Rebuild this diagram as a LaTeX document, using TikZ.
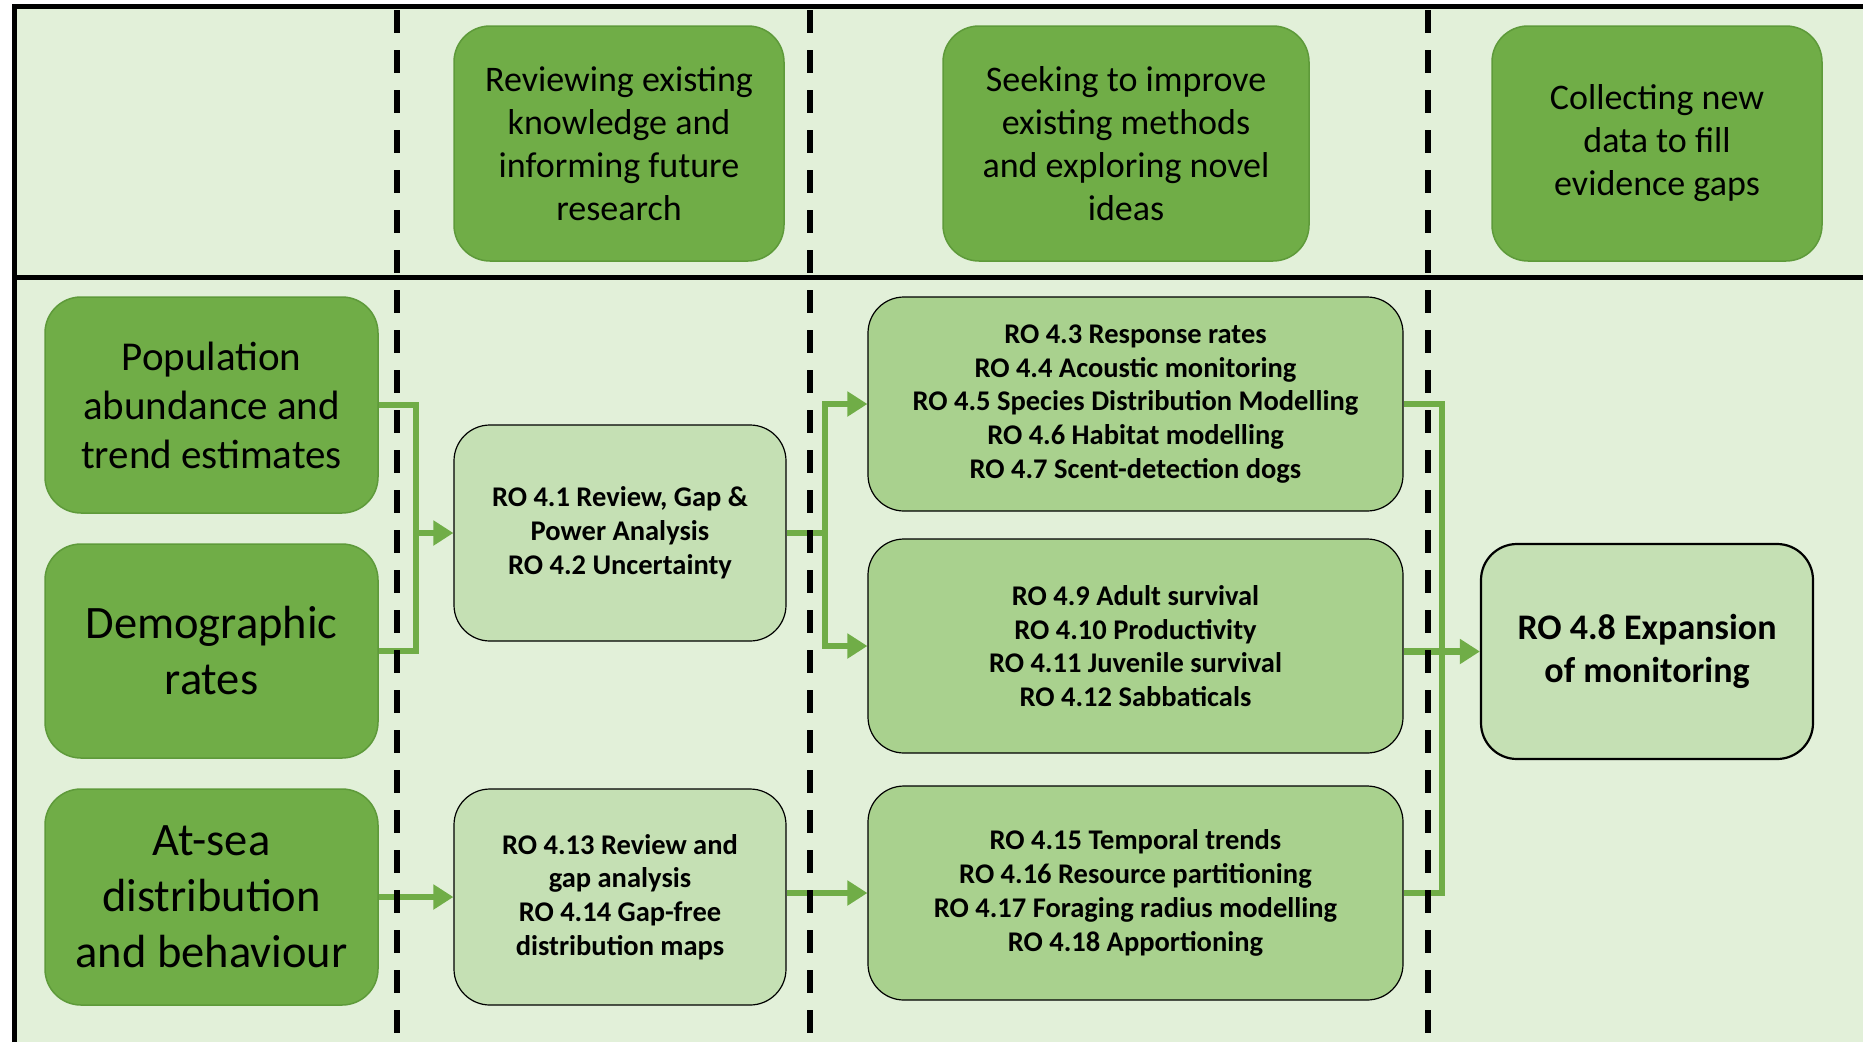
\documentclass[tikz,border=0pt]{standalone}
\usepackage{fontspec}
\setmainfont{Carlito}
\usetikzlibrary{arrows.meta}
\definecolor{bg}{HTML}{E2F0D9}
\definecolor{dk}{HTML}{70AD47}
\definecolor{dkb}{HTML}{5E9A3A}
\definecolor{md}{HTML}{A9D18E}
\definecolor{lt}{HTML}{C5E0B4}
\begin{document}
\begin{tikzpicture}[x=1pt,y=-1pt,
  darkbox/.style={draw=dkb, line width=1.5pt, fill=dk, rounded corners=36pt, align=center, inner sep=0pt},
  headbox/.style={darkbox, minimum height=235pt, font=\fontsize{36}{43}\selectfont},
  leftbox/.style={darkbox, minimum width=333pt, minimum height=216pt},
  ltbox/.style={draw=black, line width=1.2pt, fill=lt, rounded corners=36pt, align=center, inner sep=0pt, minimum width=332pt, minimum height=216pt, font=\fontsize{28.5}{33.8}\selectfont\bfseries},
  mdbox/.style={draw=black, line width=1.2pt, fill=md, rounded corners=36pt, align=center, inner sep=0pt, minimum width=535pt, minimum height=214pt, font=\fontsize{28.5}{33.8}\selectfont\bfseries},
  conn/.style={draw=dk, line width=6.5pt},
  arr/.style={-{Triangle[length=20pt,width=24pt]}},
  divider/.style={line width=6pt, dash pattern=on 23pt off 17pt}
]
\useasboundingbox (0,0) rectangle (1863,1042);
\fill[bg] (14,6) rectangle (1863,1042);
\draw[line width=5pt] (14,1042) -- (14,6) -- (1863,6);
\draw[line width=5pt] (14,277) -- (1863,277);

% header boxes
\node[headbox, minimum width=330pt] (h1) at (619,143.5) {Reviewing existing\\knowledge and\\informing future\\research};
\node[headbox, minimum width=366pt] (h2) at (1126,143.5) {Seeking to improve\\existing methods\\and exploring novel\\ideas};
\node[headbox, minimum width=330pt] (h3) at (1657,143.5) {Collecting new\\data to fill\\evidence gaps};

% left boxes
\node[leftbox, font=\fontsize{41}{49}\selectfont] (pop) at (211.5,405) {Population\\abundance and\\trend estimates};
\node[leftbox, font=\fontsize{46.5}{56}\selectfont, minimum height=214pt] (demo) at (211.5,651) {Demographic\\rates};
\node[leftbox, font=\fontsize{46.5}{56}\selectfont] (atsea) at (211.5,897) {At-sea\\distribution\\and behaviour};

% first RO column
\node[ltbox] (ro41) at (620,533) {RO 4.1 Review, Gap \&\\Power Analysis\\RO 4.2 Uncertainty};
\node[ltbox] (ro413) at (620,897) {RO 4.13 Review and\\gap analysis\\RO 4.14 Gap-free\\distribution maps};

% second RO column
\node[mdbox] (A) at (1135.5,404) {RO 4.3 Response rates\\RO 4.4 Acoustic monitoring\\RO 4.5 Species Distribution Modelling\\RO 4.6 Habitat modelling\\RO 4.7 Scent-detection dogs};
\node[mdbox] (B) at (1135.5,646) {RO 4.9 Adult survival\\RO 4.10 Productivity\\RO 4.11 Juvenile survival\\RO 4.12 Sabbaticals};
\node[mdbox] (C) at (1135.5,893) {RO 4.15 Temporal trends\\RO 4.16 Resource partitioning\\RO 4.17 Foraging radius modelling\\RO 4.18 Apportioning};

% right box
\node[draw=black, line width=2.2pt, fill=lt, rounded corners=36pt, align=center, inner sep=0pt, minimum width=332pt, minimum height=215pt, font=\fontsize{36}{43}\selectfont\bfseries] (r48) at (1647,651.5) {RO 4.8 Expansion\\of monitoring};

% connectors
\coordinate (j1) at (416,533);
\draw[conn] (pop.east) -| (j1) |- (demo.east);
\draw[conn,arr] (j1) -- (ro41.west);

\coordinate (j2) at (825,533);
\draw[conn] (ro41.east) -- (j2);
\draw[conn,arr] (j2) |- (A.west);
\draw[conn,arr] (j2) |- (B.west);

\draw[conn,arr] (atsea.east) -- (ro413.west);
\draw[conn,arr] (ro413.east |- C.west) -- (C.west);

\coordinate (j3) at (1442,651.5);
\draw[conn] (A.east) -| (j3);
\draw[conn] (C.east) -| (j3);
\draw[conn] (B.east |- r48.west) -- (j3);
\draw[conn,arr] (j3) -- (r48.west);

% dashed dividers
\draw[divider] (397,10) -- (397,1042);
\draw[divider] (810,10) -- (810,1042);
\draw[divider] (1428,10) -- (1428,1042);
\end{tikzpicture}
\end{document}
